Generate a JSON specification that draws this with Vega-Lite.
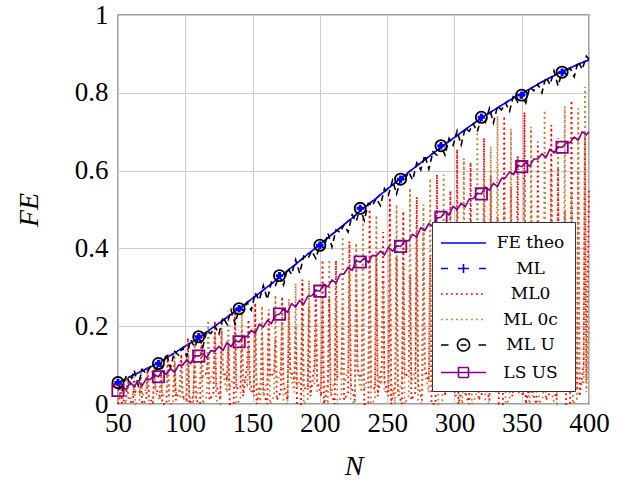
{
"$schema": "https://vega.github.io/schema/vega-lite/v6.json",
"width": 471, "height": 389,
"autosize": {"type": "none"},
"padding": {"left": 118, "top": 15, "right": 34, "bottom": 77},
"background": "white",
"config": {"view": {"stroke": "#3a3a3a", "strokeWidth": 1.3}, "font": "Liberation Serif, serif"},
"datasets": {
"main": [
{"N":50,"FE theo":0.055,"ML":0.055,"ML U":0.055,"LS US":0.035},
{"N":53,"FE theo":0.060,"ML":0.060,"ML U":0.032,"LS US":0.047},
{"N":56,"FE theo":0.065,"ML":0.065,"ML U":0.073,"LS US":0.036},
{"N":59,"FE theo":0.070,"ML":0.070,"ML U":0.052,"LS US":0.056},
{"N":62,"FE theo":0.075,"ML":0.075,"ML U":0.087,"LS US":0.045},
{"N":65,"FE theo":0.080,"ML":0.080,"ML U":0.048,"LS US":0.059},
{"N":68,"FE theo":0.085,"ML":0.085,"ML U":0.089,"LS US":0.047},
{"N":71,"FE theo":0.090,"ML":0.090,"ML U":0.078,"LS US":0.065},
{"N":74,"FE theo":0.095,"ML":0.095,"ML U":0.095,"LS US":0.063},
{"N":77,"FE theo":0.100,"ML":0.100,"ML U":0.072,"LS US":0.075},
{"N":80,"FE theo":0.105,"ML":0.104,"ML U":0.104,"LS US":0.070},
{"N":83,"FE theo":0.112,"ML":0.112,"ML U":0.094,"LS US":0.085},
{"N":86,"FE theo":0.118,"ML":0.118,"ML U":0.130,"LS US":0.076},
{"N":89,"FE theo":0.125,"ML":0.125,"ML U":0.093,"LS US":0.091},
{"N":92,"FE theo":0.131,"ML":0.131,"ML U":0.135,"LS US":0.081},
{"N":95,"FE theo":0.138,"ML":0.138,"ML U":0.126,"LS US":0.100},
{"N":98,"FE theo":0.144,"ML":0.144,"ML U":0.144,"LS US":0.100},
{"N":101,"FE theo":0.151,"ML":0.151,"ML U":0.123,"LS US":0.113},
{"N":104,"FE theo":0.157,"ML":0.157,"ML U":0.165,"LS US":0.104},
{"N":107,"FE theo":0.164,"ML":0.164,"ML U":0.146,"LS US":0.125},
{"N":110,"FE theo":0.170,"ML":0.173,"ML U":0.173,"LS US":0.123},
{"N":113,"FE theo":0.178,"ML":0.178,"ML U":0.146,"LS US":0.130},
{"N":116,"FE theo":0.185,"ML":0.185,"ML U":0.189,"LS US":0.119},
{"N":119,"FE theo":0.193,"ML":0.193,"ML U":0.181,"LS US":0.137},
{"N":122,"FE theo":0.200,"ML":0.200,"ML U":0.200,"LS US":0.136},
{"N":125,"FE theo":0.208,"ML":0.208,"ML U":0.180,"LS US":0.148},
{"N":128,"FE theo":0.215,"ML":0.215,"ML U":0.223,"LS US":0.138},
{"N":131,"FE theo":0.223,"ML":0.223,"ML U":0.205,"LS US":0.158},
{"N":134,"FE theo":0.230,"ML":0.230,"ML U":0.242,"LS US":0.148},
{"N":137,"FE theo":0.238,"ML":0.238,"ML U":0.206,"LS US":0.162},
{"N":140,"FE theo":0.245,"ML":0.245,"ML U":0.245,"LS US":0.160},
{"N":143,"FE theo":0.253,"ML":0.253,"ML U":0.241,"LS US":0.172},
{"N":146,"FE theo":0.261,"ML":0.261,"ML U":0.261,"LS US":0.174},
{"N":149,"FE theo":0.269,"ML":0.269,"ML U":0.241,"LS US":0.189},
{"N":152,"FE theo":0.277,"ML":0.277,"ML U":0.285,"LS US":0.182},
{"N":155,"FE theo":0.285,"ML":0.285,"ML U":0.267,"LS US":0.205},
{"N":158,"FE theo":0.293,"ML":0.293,"ML U":0.305,"LS US":0.198},
{"N":161,"FE theo":0.301,"ML":0.301,"ML U":0.269,"LS US":0.215},
{"N":164,"FE theo":0.309,"ML":0.309,"ML U":0.313,"LS US":0.207},
{"N":167,"FE theo":0.317,"ML":0.317,"ML U":0.305,"LS US":0.228},
{"N":170,"FE theo":0.325,"ML":0.330,"ML U":0.330,"LS US":0.231},
{"N":173,"FE theo":0.334,"ML":0.334,"ML U":0.306,"LS US":0.244},
{"N":176,"FE theo":0.342,"ML":0.342,"ML U":0.350,"LS US":0.236},
{"N":179,"FE theo":0.351,"ML":0.351,"ML U":0.333,"LS US":0.258},
{"N":182,"FE theo":0.359,"ML":0.359,"ML U":0.371,"LS US":0.250},
{"N":185,"FE theo":0.368,"ML":0.368,"ML U":0.336,"LS US":0.266},
{"N":188,"FE theo":0.376,"ML":0.376,"ML U":0.380,"LS US":0.257},
{"N":191,"FE theo":0.385,"ML":0.385,"ML U":0.373,"LS US":0.277},
{"N":194,"FE theo":0.393,"ML":0.393,"ML U":0.393,"LS US":0.278},
{"N":197,"FE theo":0.402,"ML":0.402,"ML U":0.374,"LS US":0.292},
{"N":200,"FE theo":0.410,"ML":0.408,"ML U":0.408,"LS US":0.290},
{"N":203,"FE theo":0.419,"ML":0.419,"ML U":0.401,"LS US":0.308},
{"N":206,"FE theo":0.427,"ML":0.427,"ML U":0.439,"LS US":0.301},
{"N":209,"FE theo":0.436,"ML":0.436,"ML U":0.404,"LS US":0.319},
{"N":212,"FE theo":0.444,"ML":0.444,"ML U":0.448,"LS US":0.311},
{"N":215,"FE theo":0.453,"ML":0.453,"ML U":0.441,"LS US":0.333},
{"N":218,"FE theo":0.461,"ML":0.461,"ML U":0.461,"LS US":0.335},
{"N":221,"FE theo":0.470,"ML":0.470,"ML U":0.442,"LS US":0.351},
{"N":224,"FE theo":0.478,"ML":0.478,"ML U":0.486,"LS US":0.344},
{"N":227,"FE theo":0.487,"ML":0.487,"ML U":0.469,"LS US":0.368},
{"N":230,"FE theo":0.497,"ML":0.503,"ML U":0.503,"LS US":0.365},
{"N":233,"FE theo":0.505,"ML":0.505,"ML U":0.472,"LS US":0.375},
{"N":236,"FE theo":0.513,"ML":0.513,"ML U":0.516,"LS US":0.364},
{"N":239,"FE theo":0.521,"ML":0.521,"ML U":0.509,"LS US":0.382},
{"N":242,"FE theo":0.529,"ML":0.529,"ML U":0.529,"LS US":0.381},
{"N":245,"FE theo":0.538,"ML":0.538,"ML U":0.510,"LS US":0.393},
{"N":248,"FE theo":0.546,"ML":0.546,"ML U":0.554,"LS US":0.383},
{"N":251,"FE theo":0.555,"ML":0.555,"ML U":0.537,"LS US":0.403},
{"N":254,"FE theo":0.563,"ML":0.563,"ML U":0.575,"LS US":0.393},
{"N":257,"FE theo":0.572,"ML":0.572,"ML U":0.540,"LS US":0.407},
{"N":260,"FE theo":0.580,"ML":0.578,"ML U":0.578,"LS US":0.405},
{"N":263,"FE theo":0.588,"ML":0.588,"ML U":0.576,"LS US":0.418},
{"N":266,"FE theo":0.596,"ML":0.596,"ML U":0.596,"LS US":0.420},
{"N":269,"FE theo":0.604,"ML":0.604,"ML U":0.576,"LS US":0.436},
{"N":272,"FE theo":0.612,"ML":0.612,"ML U":0.620,"LS US":0.429},
{"N":275,"FE theo":0.620,"ML":0.620,"ML U":0.602,"LS US":0.453},
{"N":278,"FE theo":0.628,"ML":0.628,"ML U":0.640,"LS US":0.446},
{"N":281,"FE theo":0.636,"ML":0.636,"ML U":0.604,"LS US":0.464},
{"N":284,"FE theo":0.644,"ML":0.644,"ML U":0.648,"LS US":0.456},
{"N":287,"FE theo":0.652,"ML":0.652,"ML U":0.640,"LS US":0.478},
{"N":290,"FE theo":0.660,"ML":0.664,"ML U":0.664,"LS US":0.480},
{"N":293,"FE theo":0.668,"ML":0.668,"ML U":0.640,"LS US":0.494},
{"N":296,"FE theo":0.675,"ML":0.675,"ML U":0.683,"LS US":0.486},
{"N":299,"FE theo":0.683,"ML":0.683,"ML U":0.665,"LS US":0.508},
{"N":302,"FE theo":0.690,"ML":0.690,"ML U":0.702,"LS US":0.500},
{"N":305,"FE theo":0.698,"ML":0.698,"ML U":0.666,"LS US":0.516},
{"N":308,"FE theo":0.705,"ML":0.705,"ML U":0.709,"LS US":0.507},
{"N":311,"FE theo":0.713,"ML":0.713,"ML U":0.701,"LS US":0.527},
{"N":314,"FE theo":0.720,"ML":0.720,"ML U":0.720,"LS US":0.528},
{"N":317,"FE theo":0.728,"ML":0.728,"ML U":0.700,"LS US":0.542},
{"N":320,"FE theo":0.735,"ML":0.737,"ML U":0.737,"LS US":0.540},
{"N":323,"FE theo":0.742,"ML":0.742,"ML U":0.724,"LS US":0.557},
{"N":326,"FE theo":0.748,"ML":0.748,"ML U":0.760,"LS US":0.550},
{"N":329,"FE theo":0.755,"ML":0.755,"ML U":0.723,"LS US":0.567},
{"N":332,"FE theo":0.761,"ML":0.761,"ML U":0.765,"LS US":0.559},
{"N":335,"FE theo":0.768,"ML":0.768,"ML U":0.756,"LS US":0.580},
{"N":338,"FE theo":0.774,"ML":0.774,"ML U":0.774,"LS US":0.582},
{"N":341,"FE theo":0.781,"ML":0.781,"ML U":0.753,"LS US":0.597},
{"N":344,"FE theo":0.787,"ML":0.787,"ML U":0.795,"LS US":0.590},
{"N":347,"FE theo":0.794,"ML":0.794,"ML U":0.776,"LS US":0.613},
{"N":350,"FE theo":0.798,"ML":0.794,"ML U":0.794,"LS US":0.610},
{"N":353,"FE theo":0.804,"ML":0.804,"ML U":0.774,"LS US":0.621},
{"N":356,"FE theo":0.810,"ML":0.810,"ML U":0.815,"LS US":0.611},
{"N":359,"FE theo":0.816,"ML":0.816,"ML U":0.805,"LS US":0.630},
{"N":362,"FE theo":0.822,"ML":0.822,"ML U":0.822,"LS US":0.630},
{"N":365,"FE theo":0.828,"ML":0.828,"ML U":0.800,"LS US":0.643},
{"N":368,"FE theo":0.833,"ML":0.833,"ML U":0.841,"LS US":0.634},
{"N":371,"FE theo":0.839,"ML":0.839,"ML U":0.821,"LS US":0.655},
{"N":374,"FE theo":0.844,"ML":0.844,"ML U":0.856,"LS US":0.646},
{"N":377,"FE theo":0.850,"ML":0.850,"ML U":0.818,"LS US":0.661},
{"N":380,"FE theo":0.855,"ML":0.853,"ML U":0.853,"LS US":0.660},
{"N":383,"FE theo":0.860,"ML":0.860,"ML U":0.848,"LS US":0.671},
{"N":386,"FE theo":0.864,"ML":0.864,"ML U":0.864,"LS US":0.672},
{"N":389,"FE theo":0.869,"ML":0.869,"ML U":0.841,"LS US":0.686},
{"N":392,"FE theo":0.873,"ML":0.873,"ML U":0.881,"LS US":0.678},
{"N":395,"FE theo":0.878,"ML":0.878,"ML U":0.860,"LS US":0.700},
{"N":398,"FE theo":0.882,"ML":0.882,"ML U":0.894,"LS US":0.692},
{"N":400,"FE theo":0.885,"ML":0.885,"ML U":0.886,"LS US":0.700}
],
"spk": [
{"N":50,"ML0":0.0,"ML 0c":0.01},
{"N":51,"ML0":0.01,"ML 0c":0.02},{"N":52,"ML0":0.06,"ML 0c":0.045},{"N":53,"ML0":0.0,"ML 0c":0.02},
{"N":56,"ML0":0.02,"ML 0c":0.0},{"N":57,"ML0":0.05,"ML 0c":0.07},{"N":58,"ML0":0.01,"ML 0c":0.01},
{"N":61,"ML0":0.0,"ML 0c":0.02},{"N":62,"ML0":0.07,"ML 0c":0.05},{"N":63,"ML0":0.03,"ML 0c":0.0},
{"N":66,"ML0":0.03,"ML 0c":0.01},{"N":67,"ML0":0.05,"ML 0c":0.09},{"N":68,"ML0":0.0,"ML 0c":0.02},
{"N":71,"ML0":0.01,"ML 0c":0.04},{"N":72,"ML0":0.095,"ML 0c":0.08},{"N":73,"ML0":0.02,"ML 0c":0.0},
{"N":76,"ML0":0.0,"ML 0c":0.0},{"N":77,"ML0":0.088,"ML 0c":0.099},{"N":78,"ML0":0.04,"ML 0c":0.03},
{"N":81,"ML0":0.02,"ML 0c":0.01},{"N":82,"ML0":0.078,"ML 0c":0.12},{"N":83,"ML0":0.0,"ML 0c":0.02},
{"N":86,"ML0":0.0,"ML 0c":0.03},{"N":87,"ML0":0.13,"ML 0c":0.091},{"N":88,"ML0":0.02,"ML 0c":0.0},
{"N":91,"ML0":0.02,"ML 0c":0.0},{"N":92,"ML0":0.105,"ML 0c":0.133},{"N":93,"ML0":0.01,"ML 0c":0.03},
{"N":96,"ML0":0.04,"ML 0c":0.02},{"N":97,"ML0":0.128,"ML 0c":0.09},{"N":98,"ML0":0.02,"ML 0c":0.01},
{"N":101,"ML0":0.01,"ML 0c":0.02},{"N":102,"ML0":0.17,"ML 0c":0.128},{"N":103,"ML0":0.0,"ML 0c":0.02},
{"N":106,"ML0":0.02,"ML 0c":0.0},{"N":107,"ML0":0.133,"ML 0c":0.18},{"N":108,"ML0":0.01,"ML 0c":0.01},
{"N":111,"ML0":0.0,"ML 0c":0.06},{"N":112,"ML0":0.185,"ML 0c":0.133},{"N":113,"ML0":0.07,"ML 0c":0.0},
{"N":116,"ML0":0.08,"ML 0c":0.02},{"N":117,"ML0":0.129,"ML 0c":0.215},{"N":118,"ML0":0.01,"ML 0c":0.05},
{"N":121,"ML0":0.03,"ML 0c":0.09},{"N":122,"ML0":0.214,"ML 0c":0.18},{"N":123,"ML0":0.05,"ML 0c":0.01},
{"N":126,"ML0":0.01,"ML 0c":0.0},{"N":127,"ML0":0.188,"ML 0c":0.212},{"N":128,"ML0":0.09,"ML 0c":0.08},
{"N":131,"ML0":0.06,"ML 0c":0.03},{"N":132,"ML0":0.156,"ML 0c":0.24},{"N":133,"ML0":0.0,"ML 0c":0.04},
{"N":136,"ML0":0.0,"ML 0c":0.07},{"N":137,"ML0":0.245,"ML 0c":0.172},{"N":138,"ML0":0.04,"ML 0c":0.0},
{"N":141,"ML0":0.04,"ML 0c":0.01},{"N":142,"ML0":0.188,"ML 0c":0.238},{"N":143,"ML0":0.02,"ML 0c":0.07},
{"N":146,"ML0":0.1,"ML 0c":0.05},{"N":147,"ML0":0.217,"ML 0c":0.153},{"N":148,"ML0":0.06,"ML 0c":0.03},
{"N":151,"ML0":0.02,"ML 0c":0.04},{"N":152,"ML0":0.26,"ML 0c":0.195},{"N":153,"ML0":0.0,"ML 0c":0.06},
{"N":156,"ML0":0.05,"ML 0c":0.0},{"N":157,"ML0":0.186,"ML 0c":0.252},{"N":158,"ML0":0.03,"ML 0c":0.02},
{"N":161,"ML0":0.0,"ML 0c":0.06},{"N":162,"ML0":0.243,"ML 0c":0.176},{"N":163,"ML0":0.07,"ML 0c":0.0},
{"N":166,"ML0":0.08,"ML 0c":0.02},{"N":167,"ML0":0.168,"ML 0c":0.28},{"N":168,"ML0":0.01,"ML 0c":0.05},
{"N":171,"ML0":0.03,"ML 0c":0.09},{"N":172,"ML0":0.276,"ML 0c":0.232},{"N":173,"ML0":0.05,"ML 0c":0.01},
{"N":176,"ML0":0.01,"ML 0c":0.0},{"N":177,"ML0":0.24,"ML 0c":0.27},{"N":178,"ML0":0.09,"ML 0c":0.08},
{"N":181,"ML0":0.06,"ML 0c":0.03},{"N":182,"ML0":0.202,"ML 0c":0.31},{"N":183,"ML0":0.0,"ML 0c":0.04},
{"N":186,"ML0":0.0,"ML 0c":0.07},{"N":187,"ML0":0.32,"ML 0c":0.224},{"N":188,"ML0":0.04,"ML 0c":0.0},
{"N":191,"ML0":0.04,"ML 0c":0.01},{"N":192,"ML0":0.251,"ML 0c":0.318},{"N":193,"ML0":0.02,"ML 0c":0.07},
{"N":196,"ML0":0.1,"ML 0c":0.05},{"N":197,"ML0":0.298,"ML 0c":0.21},{"N":198,"ML0":0.06,"ML 0c":0.03},
{"N":201,"ML0":0.02,"ML 0c":0.04},{"N":202,"ML0":0.37,"ML 0c":0.278},{"N":203,"ML0":0.0,"ML 0c":0.06},
{"N":206,"ML0":0.05,"ML 0c":0.0},{"N":207,"ML0":0.273,"ML 0c":0.371},{"N":208,"ML0":0.03,"ML 0c":0.02},
{"N":211,"ML0":0.0,"ML 0c":0.06},{"N":212,"ML0":0.369,"ML 0c":0.267},{"N":213,"ML0":0.07,"ML 0c":0.0},
{"N":216,"ML0":0.08,"ML 0c":0.02},{"N":217,"ML0":0.258,"ML 0c":0.43},{"N":218,"ML0":0.01,"ML 0c":0.05},
{"N":221,"ML0":0.03,"ML 0c":0.09},{"N":222,"ML0":0.418,"ML 0c":0.352},{"N":223,"ML0":0.05,"ML 0c":0.01},
{"N":226,"ML0":0.01,"ML 0c":0.0},{"N":227,"ML0":0.368,"ML 0c":0.414},{"N":228,"ML0":0.09,"ML 0c":0.08},
{"N":231,"ML0":0.06,"ML 0c":0.03},{"N":232,"ML0":0.312,"ML 0c":0.48},{"N":233,"ML0":0.0,"ML 0c":0.04},
{"N":236,"ML0":0.0,"ML 0c":0.07},{"N":237,"ML0":0.5,"ML 0c":0.35},{"N":238,"ML0":0.04,"ML 0c":0.0},
{"N":241,"ML0":0.04,"ML 0c":0.01},{"N":242,"ML0":0.383,"ML 0c":0.485},{"N":243,"ML0":0.02,"ML 0c":0.07},
{"N":246,"ML0":0.1,"ML 0c":0.05},{"N":247,"ML0":0.442,"ML 0c":0.312},{"N":248,"ML0":0.06,"ML 0c":0.03},
{"N":251,"ML0":0.02,"ML 0c":0.04},{"N":252,"ML0":0.53,"ML 0c":0.398},{"N":253,"ML0":0.0,"ML 0c":0.06},
{"N":256,"ML0":0.05,"ML 0c":0.0},{"N":257,"ML0":0.378,"ML 0c":0.513},{"N":258,"ML0":0.03,"ML 0c":0.02},
{"N":261,"ML0":0.0,"ML 0c":0.06},{"N":262,"ML0":0.495,"ML 0c":0.358},{"N":263,"ML0":0.07,"ML 0c":0.0},
{"N":266,"ML0":0.08,"ML 0c":0.02},{"N":267,"ML0":0.333,"ML 0c":0.555},{"N":268,"ML0":0.01,"ML 0c":0.05},
{"N":271,"ML0":0.03,"ML 0c":0.09},{"N":272,"ML0":0.532,"ML 0c":0.448},{"N":273,"ML0":0.05,"ML 0c":0.01},
{"N":276,"ML0":0.01,"ML 0c":0.0},{"N":277,"ML0":0.456,"ML 0c":0.513},{"N":278,"ML0":0.09,"ML 0c":0.08},
{"N":281,"ML0":0.06,"ML 0c":0.03},{"N":282,"ML0":0.377,"ML 0c":0.58},{"N":283,"ML0":0.0,"ML 0c":0.04},
{"N":286,"ML0":0.0,"ML 0c":0.07},{"N":287,"ML0":0.59,"ML 0c":0.413},{"N":288,"ML0":0.04,"ML 0c":0.0},
{"N":291,"ML0":0.04,"ML 0c":0.01},{"N":292,"ML0":0.465,"ML 0c":0.589},{"N":293,"ML0":0.02,"ML 0c":0.07},
{"N":296,"ML0":0.1,"ML 0c":0.05},{"N":297,"ML0":0.548,"ML 0c":0.387},{"N":298,"ML0":0.06,"ML 0c":0.03},
{"N":301,"ML0":0.02,"ML 0c":0.04},{"N":302,"ML0":0.655,"ML 0c":0.491},{"N":303,"ML0":0.0,"ML 0c":0.06},
{"N":306,"ML0":0.05,"ML 0c":0.0},{"N":307,"ML0":0.466,"ML 0c":0.632},{"N":308,"ML0":0.03,"ML 0c":0.02},
{"N":311,"ML0":0.0,"ML 0c":0.06},{"N":312,"ML0":0.621,"ML 0c":0.449},{"N":313,"ML0":0.07,"ML 0c":0.0},
{"N":316,"ML0":0.08,"ML 0c":0.02},{"N":317,"ML0":0.42,"ML 0c":0.7},{"N":318,"ML0":0.01,"ML 0c":0.05},
{"N":321,"ML0":0.03,"ML 0c":0.09},{"N":322,"ML0":0.684,"ML 0c":0.576},{"N":323,"ML0":0.05,"ML 0c":0.01},
{"N":326,"ML0":0.01,"ML 0c":0.0},{"N":327,"ML0":0.588,"ML 0c":0.662},{"N":328,"ML0":0.09,"ML 0c":0.08},
{"N":331,"ML0":0.06,"ML 0c":0.03},{"N":332,"ML0":0.481,"ML 0c":0.74},{"N":333,"ML0":0.0,"ML 0c":0.04},
{"N":336,"ML0":0.0,"ML 0c":0.07},{"N":337,"ML0":0.74,"ML 0c":0.518},{"N":338,"ML0":0.04,"ML 0c":0.0},
{"N":341,"ML0":0.04,"ML 0c":0.01},{"N":342,"ML0":0.559,"ML 0c":0.708},{"N":343,"ML0":0.02,"ML 0c":0.07},
{"N":346,"ML0":0.1,"ML 0c":0.05},{"N":347,"ML0":0.638,"ML 0c":0.45},{"N":348,"ML0":0.06,"ML 0c":0.03},
{"N":351,"ML0":0.02,"ML 0c":0.04},{"N":352,"ML0":0.75,"ML 0c":0.563},{"N":353,"ML0":0.0,"ML 0c":0.06},
{"N":356,"ML0":0.05,"ML 0c":0.0},{"N":357,"ML0":0.525,"ML 0c":0.713},{"N":358,"ML0":0.03,"ML 0c":0.02},
{"N":361,"ML0":0.0,"ML 0c":0.06},{"N":362,"ML0":0.675,"ML 0c":0.488},{"N":363,"ML0":0.07,"ML 0c":0.0},
{"N":366,"ML0":0.08,"ML 0c":0.02},{"N":367,"ML0":0.453,"ML 0c":0.755},{"N":368,"ML0":0.01,"ML 0c":0.05},
{"N":371,"ML0":0.03,"ML 0c":0.09},{"N":372,"ML0":0.717,"ML 0c":0.604},{"N":373,"ML0":0.05,"ML 0c":0.01},
{"N":376,"ML0":0.01,"ML 0c":0.0},{"N":377,"ML0":0.608,"ML 0c":0.684},{"N":378,"ML0":0.09,"ML 0c":0.08},
{"N":381,"ML0":0.06,"ML 0c":0.03},{"N":382,"ML0":0.497,"ML 0c":0.765},{"N":383,"ML0":0.0,"ML 0c":0.04},
{"N":386,"ML0":0.0,"ML 0c":0.07},{"N":387,"ML0":0.78,"ML 0c":0.546},{"N":388,"ML0":0.04,"ML 0c":0.0},
{"N":391,"ML0":0.04,"ML 0c":0.01},{"N":392,"ML0":0.6,"ML 0c":0.76},{"N":393,"ML0":0.02,"ML 0c":0.07},
{"N":396,"ML0":0.1,"ML 0c":0.05},{"N":397,"ML0":0.693,"ML 0c":0.815},{"N":398,"ML0":0.06,"ML 0c":0.03},
{"N":400,"ML0":0.55,"ML 0c":0.2}
]
},
"data": {"name": "main"},
"encoding": {
  "x": {"field": "N", "type": "quantitative",
    "scale": {"domain": [50, 400], "nice": false, "zero": false},
    "axis": {"values": [50, 100, 150, 200, 250, 300, 350, 400], "title": "N",
      "titleFont": "Liberation Serif, serif", "titleFontStyle": "italic", "titleFontWeight": "normal", "titleFontSize": 28, "titleColor": "black",
      "titleY": 70, "titleBaseline": "alphabetic",
      "labelFont": "Liberation Serif, serif", "labelFontSize": 27, "labelColor": "black", "labelPadding": 6,
      "labelOverlap": false, "labelFlush": false, "labelBound": false,
      "ticks": false, "domain": false, "grid": true, "gridColor": "#cccccc", "gridWidth": 1}},
  "y": {"field": "v", "type": "quantitative",
    "scale": {"domain": [0, 1], "nice": false},
    "axis": {"values": [0, 0.2, 0.4, 0.6, 0.8, 1], "format": "~g", "title": "FE",
      "titleFont": "Liberation Serif, serif", "titleFontStyle": "italic", "titleFontWeight": "normal", "titleFontSize": 28, "titleColor": "black",
      "titleX": -81, "titleY": 194.5, "titleBaseline": "alphabetic", "titleAlign": "center",
      "labelFont": "Liberation Serif, serif", "labelFontSize": 27, "labelColor": "black", "labelPadding": 10,
      "labelOverlap": false, "labelFlush": false, "labelBound": false,
      "ticks": false, "domain": false, "grid": true, "gridColor": "#cccccc", "gridWidth": 1}},
  "color": {"field": "series", "type": "nominal",
    "scale": {"domain": ["FE theo", "ML", "ML0", "ML 0c", "ML U", "LS US"],
              "range": ["#0000ff", "#0000ff", "#ff0000", "#bf8040", "#000000", "#800080"]},
    "legend": {"orient": "none", "legendX": 314, "legendY": 207, "title": null, "direction": "vertical",
      "padding": 10, "fillColor": "white", "strokeColor": "#333333",
      "symbolType": "stroke", "symbolSize": 400, "symbolOffset": 10.5, "symbolStrokeWidth": 1.6,
      "labelFont": "DejaVu Serif, serif", "labelFontSize": 17, "labelColor": "black", "labelAlign": "center", "labelOffset": 56,
      "rowPadding": 6.5,
      "encode": {"symbols": {"update": {
        "shape": {"signal": "datum.value==='ML' ? 'M-2.25,0H-1.55M-0.55,0H0.55M1.55,0H2.25M0,-0.45V0.45' : datum.value==='ML U' ? 'M-2.25,0H-1.5M-0.3,0H0.3M1.5,0H2.25M0.6,0A0.6,0.6,0,1,1,-0.6,0A0.6,0.6,0,1,1,0.6,0' : datum.value==='LS US' ? 'M-2.25,0H2.25M-0.5,-0.5H0.5V0.5H-0.5Z' : 'M-2.25,0H2.25'"},
        "strokeDash": {"signal": "(datum.value==='ML0' || datum.value==='ML 0c') ? [1.8,3.2] : [1,0]"},
        "fill": {"value": "transparent"}
      }}}}}
},
"layer": [
  {"transform": [{"fold": ["FE theo", "ML", "ML U", "LS US"], "as": ["series", "v"]}, {"filter": "datum.series==='FE theo'"}],
   "mark": {"type": "line", "strokeWidth": 1.6}},
  {"transform": [{"fold": ["FE theo", "ML", "ML U", "LS US"], "as": ["series", "v"]}, {"filter": "datum.series==='ML'"}],
   "mark": {"type": "line", "strokeWidth": 1.6, "strokeDash": [6, 4]}},
  {"data": {"name": "spk"}, "transform": [{"fold": ["ML0", "ML 0c"], "as": ["series", "v"]}, {"filter": "datum.series==='ML0'"}],
   "mark": {"type": "line", "strokeWidth": 1.8, "strokeDash": [1.8, 3.2]}},
  {"data": {"name": "spk"}, "transform": [{"fold": ["ML0", "ML 0c"], "as": ["series", "v"]}, {"filter": "datum.series==='ML 0c'"}],
   "mark": {"type": "line", "strokeWidth": 1.8, "strokeDash": [1.8, 3.2]}},
  {"transform": [{"fold": ["FE theo", "ML", "ML U", "LS US"], "as": ["series", "v"]}, {"filter": "datum.series==='ML U'"}],
   "mark": {"type": "line", "strokeWidth": 1.6, "strokeDash": [6, 4]}},
  {"transform": [{"fold": ["FE theo", "ML", "ML U", "LS US"], "as": ["series", "v"]}, {"filter": "datum.series==='LS US'"}],
   "mark": {"type": "line", "strokeWidth": 1.6}},
  {"transform": [{"fold": ["FE theo", "ML", "ML U", "LS US"], "as": ["series", "v"]}, {"filter": "datum.series==='ML' && (datum.N - 50) % 30 === 0"}],
   "mark": {"type": "point", "shape": "cross", "filled": true, "size": 55, "opacity": 1},
   "encoding": {"color": {"value": "#0000ff"}}},
  {"transform": [{"fold": ["FE theo", "ML", "ML U", "LS US"], "as": ["series", "v"]}, {"filter": "datum.series==='ML U' && (datum.N - 50) % 30 === 0"}],
   "mark": {"type": "point", "shape": "circle", "filled": false, "size": 125, "strokeWidth": 1.8, "opacity": 1},
   "encoding": {"color": {"value": "#000000"}}},
  {"transform": [{"fold": ["FE theo", "ML", "ML U", "LS US"], "as": ["series", "v"]}, {"filter": "datum.series==='LS US' && (datum.N - 50) % 30 === 0"}],
   "mark": {"type": "point", "shape": "square", "filled": false, "size": 130, "strokeWidth": 1.8, "opacity": 1},
   "encoding": {"color": {"value": "#800080"}}}
]
}
